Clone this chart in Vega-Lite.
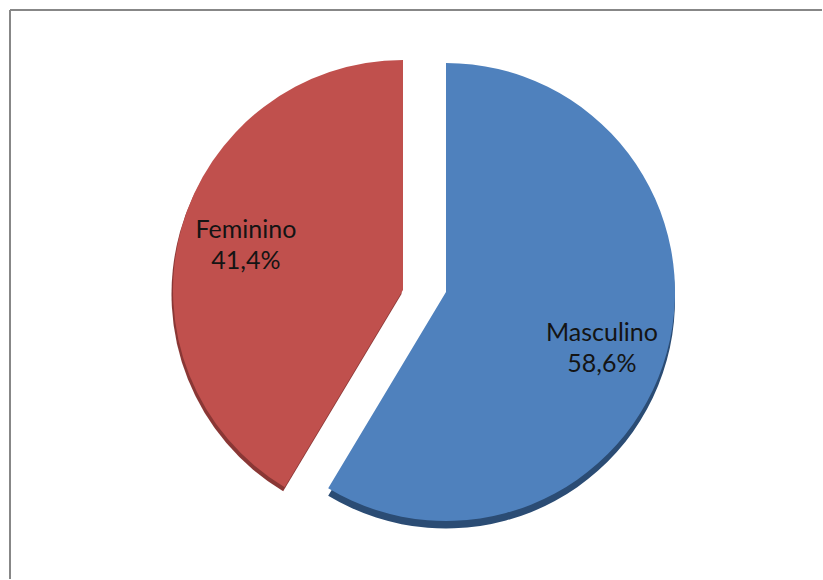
{
  "$schema": "https://vega.github.io/schema/vega-lite/v6.json",
  "autosize": {"type": "fit", "contains": "padding"},
  "width": 823,
  "height": 580,
  "padding": {"left": 9, "top": 9, "right": 0, "bottom": 0},
  "background": "white",
  "view": {"stroke": null},
  "data": {"values": [
    {"category": "Masculino", "value": 58.6, "label": "Masculino\n58,6%"},
    {"category": "Feminino", "value": 41.4, "label": "Feminino\n41,4%"}
  ]},
  "layer": [
    {
      "transform": [{"filter": "datum.category === 'Masculino'"}],
      "encoding": {"theta": {"field": "value", "type": "quantitative", "stack": true, "scale": {"domain": [0, 100]}}},
      "layer": [
        {"mark": {"type": "arc", "radius": 229, "xOffset": 30, "yOffset": 5, "fill": "#2B4C74"}},
        {"mark": {"type": "arc", "radius": 229, "xOffset": 30, "yOffset": -2.5, "fill": "#4F81BD"}},
        {
          "mark": {"type": "text", "radius": 166, "xOffset": 26, "yOffset": -6, "font": "Lato", "fontSize": 25, "lineHeight": 31, "lineBreak": "\n", "align": "center", "baseline": "middle", "fill": "#141414"},
          "encoding": {"text": {"field": "label"}}
        }
      ]
    },
    {
      "transform": [{"filter": "datum.category === 'Feminino'"}],
      "encoding": {"theta": {"field": "value", "type": "quantitative", "stack": true, "scale": {"domain": [0, 100], "reverse": true}}},
      "layer": [
        {"mark": {"type": "arc", "radius": 230, "xOffset": -14.5, "yOffset": -0.5, "fill": "#8A3735"}},
        {"mark": {"type": "arc", "radius": 230, "xOffset": -13, "yOffset": -4.5, "fill": "#C0504D"}},
        {
          "mark": {"type": "text", "radius": 163, "xOffset": -13, "yOffset": -20.5, "font": "Lato", "fontSize": 25, "lineHeight": 31, "lineBreak": "\n", "align": "center", "baseline": "middle", "fill": "#141414"},
          "encoding": {"text": {"field": "label"}}
        }
      ]
    },
    {
      "mark": {"type": "rule", "stroke": "#878787", "strokeWidth": 2},
      "encoding": {"x": {"value": 0}, "x2": {"value": "width"}, "y": {"value": 0}}
    },
    {
      "mark": {"type": "rule", "stroke": "#878787", "strokeWidth": 2},
      "encoding": {"x": {"value": 0}, "y": {"value": 0}, "y2": {"value": "height"}}
    }
  ],
  "resolve": {"scale": {"theta": "independent"}}
}
